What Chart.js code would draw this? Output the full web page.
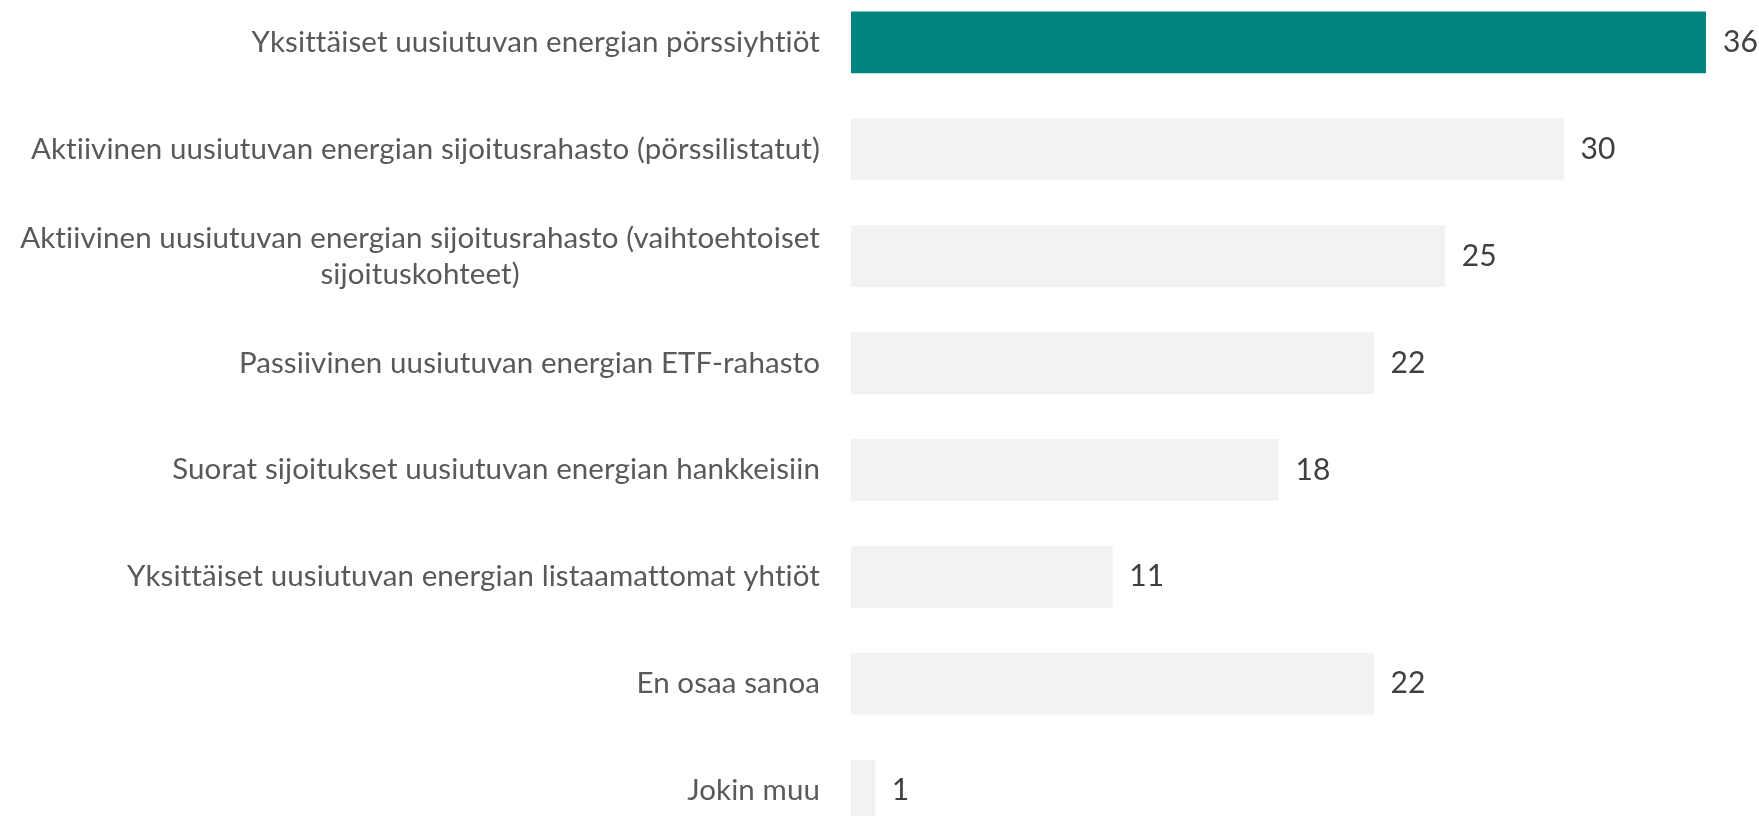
<!DOCTYPE html>
<html>
<head>
<meta charset="utf-8">
<script src="https://cdn.jsdelivr.net/npm/chart.js@4.4.1/dist/chart.umd.min.js"></script>
<style>
    html, body { margin: 0; padding: 0; background: #ffffff; overflow: hidden; }
    #wrap { position: absolute; left: 0; top: -11px; width: 1759px; height: 855px; }
</style>
</head>
<body>
<div id="wrap"><canvas id="chart"></canvas></div>
<script>
// Chart data
const categories = [
    ["Yksittäiset uusiutuvan energian pörssiyhtiöt"],
    ["Aktiivinen uusiutuvan energian sijoitusrahasto (pörssilistatut)"],
    ["Aktiivinen uusiutuvan energian sijoitusrahasto (vaihtoehtoiset", "sijoituskohteet)"],
    ["Passiivinen uusiutuvan energian ETF-rahasto"],
    ["Suorat sijoitukset uusiutuvan energian hankkeisiin"],
    ["Yksittäiset uusiutuvan energian listaamattomat yhtiöt"],
    ["En osaa sanoa"],
    ["Jokin muu"]
];
const values = [36, 30, 25, 22, 18, 11, 22, 1];
const highlightIndex = 0;

const FONT = "Lato, 'Open Sans', sans-serif";
const LABEL_SIZE = 29.5;
const LABEL_COLOR = '#595959';
const VALUE_COLOR = '#404040';

const barColors = values.map((v, i) => i === highlightIndex ? '#00847F' : '#F2F2F2');

// Draws category labels (right aligned next to bars) and values after bar ends
const labelPlugin = {
    id: 'labelPlugin',
    afterDatasetsDraw(chart) {
        const ctx = chart.ctx;
        const yScale = chart.scales.y;
        const meta = chart.getDatasetMeta(0);
        ctx.save();
        ctx.font = LABEL_SIZE + 'px ' + FONT;
        ctx.letterSpacing = '0.1px'; // also stops the "ti" ligature
        ctx.textBaseline = 'middle';
        const lineH = 36;
        const rightEdge = chart.chartArea.left - 31;

        categories.forEach((lines, i) => {
            const yc = yScale.getPixelForValue(i);
            const widths = lines.map(l => ctx.measureText(l).width);
            const blockW = Math.max(...widths);
            const top = yc - (lines.length - 1) * lineH / 2;
            ctx.fillStyle = LABEL_COLOR;
            ctx.textAlign = 'center';
            lines.forEach((l, k) => {
                ctx.fillText(l, rightEdge - blockW / 2, top + k * lineH);
            });
        });

        ctx.font = '30px ' + FONT;
        ctx.textAlign = 'left';
        ctx.fillStyle = VALUE_COLOR;
        meta.data.forEach((bar, i) => {
            ctx.fillText(String(values[i]), bar.x + 17, bar.y);
        });
        ctx.restore();
    }
};

new Chart(document.getElementById('chart'), {
    type: 'bar',
    data: {
        labels: categories,
        datasets: [{
            data: values,
            backgroundColor: barColors,
            borderWidth: 0,
            barThickness: 61
        }]
    },
    options: {
        indexAxis: 'y',
        responsive: true,
        maintainAspectRatio: false,
        animation: false,
        layout: { padding: { left: 0, right: 53, top: 0, bottom: 0 } },
        plugins: {
            legend: { display: false },
            tooltip: { enabled: false }
        },
        scales: {
            x: {
                display: false,
                min: 0,
                max: 36
            },
            y: {
                grid: { display: false },
                border: { display: false },
                ticks: { display: false },
                afterFit(scale) { scale.width = 851; }
            }
        }
    },
    plugins: [labelPlugin]
});
</script>
</body>
</html>
